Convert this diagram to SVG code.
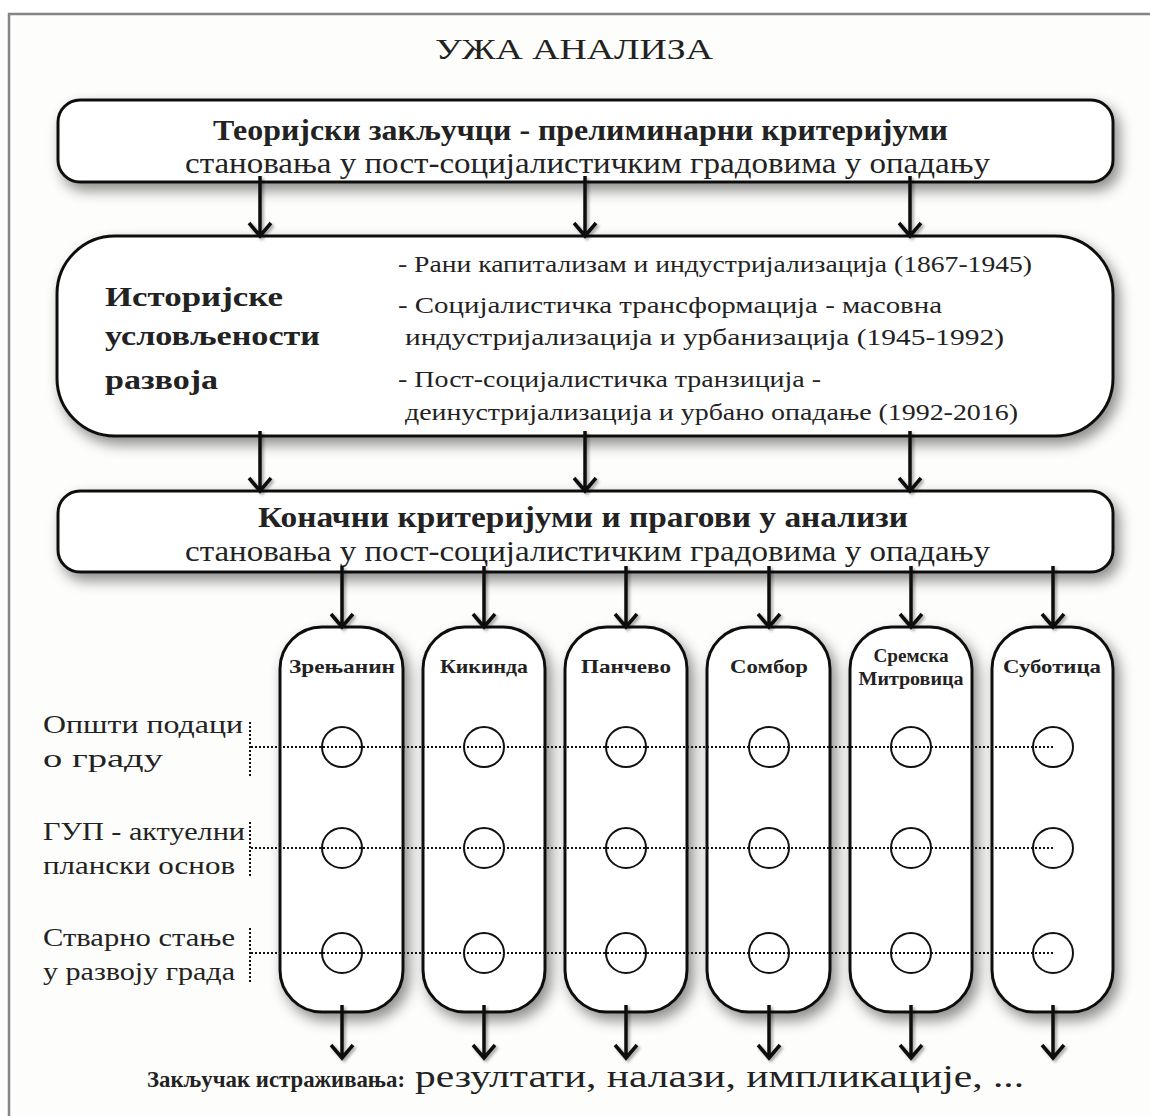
<svg xmlns="http://www.w3.org/2000/svg" width="1150" height="1116" viewBox="0 0 1150 1116">
<defs>
<filter id="sh" x="-20%" y="-20%" width="140%" height="150%">
<feDropShadow dx="5" dy="7" stdDeviation="7" flood-color="#000" flood-opacity="0.45"/>
</filter>
<filter id="ash" x="-50%" y="-20%" width="200%" height="140%">
<feDropShadow dx="2" dy="2" stdDeviation="1.5" flood-color="#000" flood-opacity="0.35"/>
</filter>
</defs>
<style>
.box{fill:#fff;stroke:#111;stroke-width:3;filter:url(#sh)}
.t{font-family:"Liberation Serif","DejaVu Serif",serif;fill:#222}
.b{font-weight:bold}
.arr{stroke:#111;stroke-width:3.5;fill:none;filter:url(#ash)}
.dot{stroke:#111;stroke-width:2;stroke-dasharray:2 2;fill:none}
.c{fill:none;stroke:#111;stroke-width:2}
</style>
<rect x="0" y="0" width="1150" height="1116" fill="#fff"/>
<rect x="8" y="14" width="1142" height="1102" fill="#fdfdfb"/>
<path d="M9 1116 V14 H1150" fill="none" stroke="#858585" stroke-width="2.5"/>

<text class="t" x="574" y="59" font-size="30" text-anchor="middle" textLength="278" lengthAdjust="spacingAndGlyphs">УЖА АНАЛИЗА</text>

<g id="box1">
<rect class="box" x="58" y="100" width="1055" height="82" rx="22"/>
<text class="t b" x="213" y="140" font-size="29" textLength="735" lengthAdjust="spacingAndGlyphs">Теоријски закључци - прелиминарни критеријуми</text>
<text class="t" x="185" y="173" font-size="30" textLength="805" lengthAdjust="spacingAndGlyphs">становања у пост-социјалистичким градовима у опадању</text>
</g>

<g id="box2">
<rect class="box" x="57" y="236" width="1056" height="200" rx="58"/>
<text class="t b" x="105" y="306" font-size="28" textLength="178" lengthAdjust="spacingAndGlyphs">Историјске</text>
<text class="t b" x="105" y="345" font-size="28" textLength="215" lengthAdjust="spacingAndGlyphs">условљености</text>
<text class="t b" x="105" y="389" font-size="28" textLength="113" lengthAdjust="spacingAndGlyphs">развоја</text>
<text class="t" x="398" y="272" font-size="24" textLength="634" lengthAdjust="spacingAndGlyphs">- Рани капитализам и индустријализација (1867-1945)</text>
<text class="t" x="398" y="313" font-size="24" textLength="544" lengthAdjust="spacingAndGlyphs">- Социјалистичка трансформација - масовна</text>
<text class="t" x="405" y="345" font-size="24" textLength="599" lengthAdjust="spacingAndGlyphs">индустријализација и урбанизација (1945-1992)</text>
<text class="t" x="398" y="387" font-size="24" textLength="423" lengthAdjust="spacingAndGlyphs">- Пост-социјалистичка транзиција -</text>
<text class="t" x="405" y="420" font-size="24" textLength="613" lengthAdjust="spacingAndGlyphs">деинустријализација и урбано опадање (1992-2016)</text>
</g>

<g id="box3">
<rect class="box" x="58" y="491" width="1055" height="81" rx="22"/>
<text class="t b" x="258" y="527" font-size="29" textLength="650" lengthAdjust="spacingAndGlyphs">Коначни критеријуми и прагови у анализи</text>
<text class="t" x="185" y="561" font-size="30" textLength="805" lengthAdjust="spacingAndGlyphs">становања у пост-социјалистичким градовима у опадању</text>
</g>

<g id="col1"><rect class="box" x="280" y="627" width="123" height="385" rx="42"/>
<text class="t b" x="342" y="673" font-size="19" text-anchor="middle" textLength="106" lengthAdjust="spacingAndGlyphs">Зрењанин</text></g>
<g id="col2"><rect class="box" x="423" y="627" width="122" height="385" rx="42"/>
<text class="t b" x="484" y="673" font-size="19" text-anchor="middle" textLength="88" lengthAdjust="spacingAndGlyphs">Кикинда</text></g>
<g id="col3"><rect class="box" x="565" y="627" width="122" height="385" rx="42"/>
<text class="t b" x="626" y="673" font-size="19" text-anchor="middle" textLength="90" lengthAdjust="spacingAndGlyphs">Панчево</text></g>
<g id="col4"><rect class="box" x="707" y="627" width="123" height="385" rx="42"/>
<text class="t b" x="769" y="673" font-size="19" text-anchor="middle" textLength="78" lengthAdjust="spacingAndGlyphs">Сомбор</text></g>
<g id="col5"><rect class="box" x="850" y="627" width="122" height="385" rx="42"/>
<text class="t b" x="911" y="662" font-size="18" text-anchor="middle" textLength="75" lengthAdjust="spacingAndGlyphs">Сремска</text>
<text class="t b" x="911" y="685" font-size="18" text-anchor="middle" textLength="105" lengthAdjust="spacingAndGlyphs">Митровица</text></g>
<g id="col6"><rect class="box" x="992" y="627" width="121" height="385" rx="42"/>
<text class="t b" x="1052" y="673" font-size="19" text-anchor="middle" textLength="98" lengthAdjust="spacingAndGlyphs">Суботица</text></g>

<g id="labels">
<text class="t" x="43" y="733" font-size="26" textLength="200" lengthAdjust="spacingAndGlyphs">Општи подаци</text>
<text class="t" x="43" y="767" font-size="26" textLength="120" lengthAdjust="spacingAndGlyphs">о граду</text>
<text class="t" x="43" y="840" font-size="26" textLength="202" lengthAdjust="spacingAndGlyphs">ГУП - актуелни</text>
<text class="t" x="43" y="874" font-size="26" textLength="192" lengthAdjust="spacingAndGlyphs">плански основ</text>
<text class="t" x="43" y="946" font-size="26" textLength="192" lengthAdjust="spacingAndGlyphs">Стварно стање</text>
<text class="t" x="43" y="980" font-size="26" textLength="192" lengthAdjust="spacingAndGlyphs">у развоју града</text>
</g>

<g id="grid">
<path class="dot" d="M250 722 V776 M250 822 V877 M250 928 V983"/>
<path class="dot" d="M251 747 H1053 M251 848 H1053 M251 953 H1053"/>
<circle class="c" cx="342" cy="747" r="20"/><circle class="c" cx="342" cy="848" r="20"/><circle class="c" cx="342" cy="953" r="20"/>
<circle class="c" cx="484" cy="747" r="20"/><circle class="c" cx="484" cy="848" r="20"/><circle class="c" cx="484" cy="953" r="20"/>
<circle class="c" cx="626" cy="747" r="20"/><circle class="c" cx="626" cy="848" r="20"/><circle class="c" cx="626" cy="953" r="20"/>
<circle class="c" cx="769" cy="747" r="20"/><circle class="c" cx="769" cy="848" r="20"/><circle class="c" cx="769" cy="953" r="20"/>
<circle class="c" cx="911" cy="747" r="20"/><circle class="c" cx="911" cy="848" r="20"/><circle class="c" cx="911" cy="953" r="20"/>
<circle class="c" cx="1053" cy="747" r="20"/><circle class="c" cx="1053" cy="848" r="20"/><circle class="c" cx="1053" cy="953" r="20"/>
</g>

<g id="connectors">
<path class="arr" d="M260 176 V236 M249 223 L260 236 L271 223"/>
<path class="arr" d="M585 176 V236 M574 223 L585 236 L596 223"/>
<path class="arr" d="M910 176 V236 M899 223 L910 236 L921 223"/>
<path class="arr" d="M260 431 V491 M249 478 L260 491 L271 478"/>
<path class="arr" d="M585 431 V491 M574 478 L585 491 L596 478"/>
<path class="arr" d="M910 431 V491 M899 478 L910 491 L921 478"/>
<path class="arr" d="M342 566 V627 M331 614 L342 627 L353 614"/>
<path class="arr" d="M484 566 V627 M473 614 L484 627 L495 614"/>
<path class="arr" d="M626 566 V627 M615 614 L626 627 L637 614"/>
<path class="arr" d="M769 566 V627 M758 614 L769 627 L780 614"/>
<path class="arr" d="M911 566 V627 M900 614 L911 627 L922 614"/>
<path class="arr" d="M1053 566 V627 M1042 614 L1053 627 L1064 614"/>
<path class="arr" d="M342 1005 V1058 M331 1045 L342 1058 L353 1045"/>
<path class="arr" d="M484 1005 V1058 M473 1045 L484 1058 L495 1045"/>
<path class="arr" d="M626 1005 V1058 M615 1045 L626 1058 L637 1045"/>
<path class="arr" d="M769 1005 V1058 M758 1045 L769 1058 L780 1045"/>
<path class="arr" d="M911 1005 V1058 M900 1045 L911 1058 L922 1045"/>
<path class="arr" d="M1053 1005 V1058 M1042 1045 L1053 1058 L1064 1045"/>
</g>

<g id="conclusion">
<text class="t b" x="147" y="1087" font-size="24" textLength="258" lengthAdjust="spacingAndGlyphs">Закључак истраживања:</text>
<text class="t" x="415" y="1087" font-size="32" textLength="609" lengthAdjust="spacingAndGlyphs">резултати, налази, импликације, ...</text>
</g>
</svg>
